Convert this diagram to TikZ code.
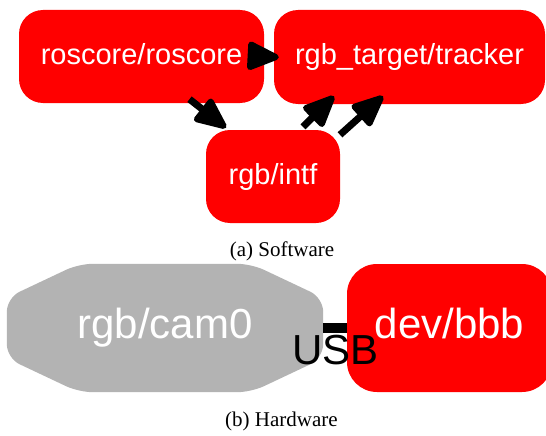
\documentclass[tikz,border=0pt]{standalone}
\usepackage{fontspec}
\setmainfont{Liberation Serif}
\newfontfamily\graphfont{Liberation Sans}
\usetikzlibrary{arrows.meta,calc,backgrounds}
\definecolor{nodered}{HTML}{FF0000}
\definecolor{hwgray}{HTML}{B3B3B3}
\begin{document}
\begin{tikzpicture}[x=1pt,y=-1pt,
  proc/.style={fill=nodered, rounded corners=24pt, inner sep=0pt, text=white,
    font=\graphfont\fontsize{29}{31}\selectfont, text height=22pt, text depth=6pt},
  bigtext/.style={inner sep=0pt, font=\graphfont\fontsize{42}{46}\selectfont,
    text height=29pt, text depth=8pt},
  msg/.style={line width=7pt,
    -{Triangle[length=36pt,width=30pt,round,line width=6pt]}},
  caption/.style={font=\fontsize{21}{24}\selectfont, anchor=base}]
\useasboundingbox (0,0) rectangle (546,436);
\clip (0,0) rectangle (546,436);

% software graph
\node[proc, minimum width=245pt, minimum height=93pt] (roscore) at (141.5,56.5) {roscore/roscore};
\node[proc, minimum width=271pt, minimum height=94pt] (tracker) at (409.5,57) {rgb\_target/tracker};
\node[proc, minimum width=134pt, minimum height=93pt] (intf) at (273,176.5) {rgb/intf};

\draw[msg, shorten >=-5pt] (roscore.east) -- (tracker.west);
\draw[msg] ($(roscore.south)+(48,-4)$) -- ($(intf.north)+(-47,-2)$);
\draw[msg] ($(intf.north)+(30,-3)$) -- ($(tracker.south)+(-75.5,-8)$);
\draw[msg] ($(intf.north)+(67,5)$) -- ($(tracker.south)+(-26.5,-8)$);

\node[caption] (capa) at (282,256) {(a) Software};

% hardware graph
\node[bigtext, text=white, minimum width=316pt, minimum height=128pt] (cam0) at (165,328) {rgb/cam0};
\begin{scope}[on background layer]
  \fill[hwgray, rounded corners=14pt]
    ($(cam0.north west)+(72,0)$) -- ($(cam0.north east)+(-72,0)$)
    -- ($(cam0.north east)+(0,34)$) -- ($(cam0.south east)+(0,-34)$)
    -- ($(cam0.south east)+(-72,0)$) -- ($(cam0.south west)+(72,0)$)
    -- ($(cam0.south west)+(0,-34)$) -- ($(cam0.north west)+(0,34)$) -- cycle;
\end{scope}
\node[bigtext, fill=nodered, rounded corners=30pt, text=white,
  minimum width=205pt, minimum height=128pt] (dev) at (449.5,328) {dev/bbb};

\draw[line width=10pt] (cam0.east) -- (dev.west);
\node[bigtext, anchor=base, text depth=0pt] (usb) at (335.5,364) {USB};

\node[caption] (capb) at (281.5,426) {(b) Hardware};
\end{tikzpicture}
\end{document}
